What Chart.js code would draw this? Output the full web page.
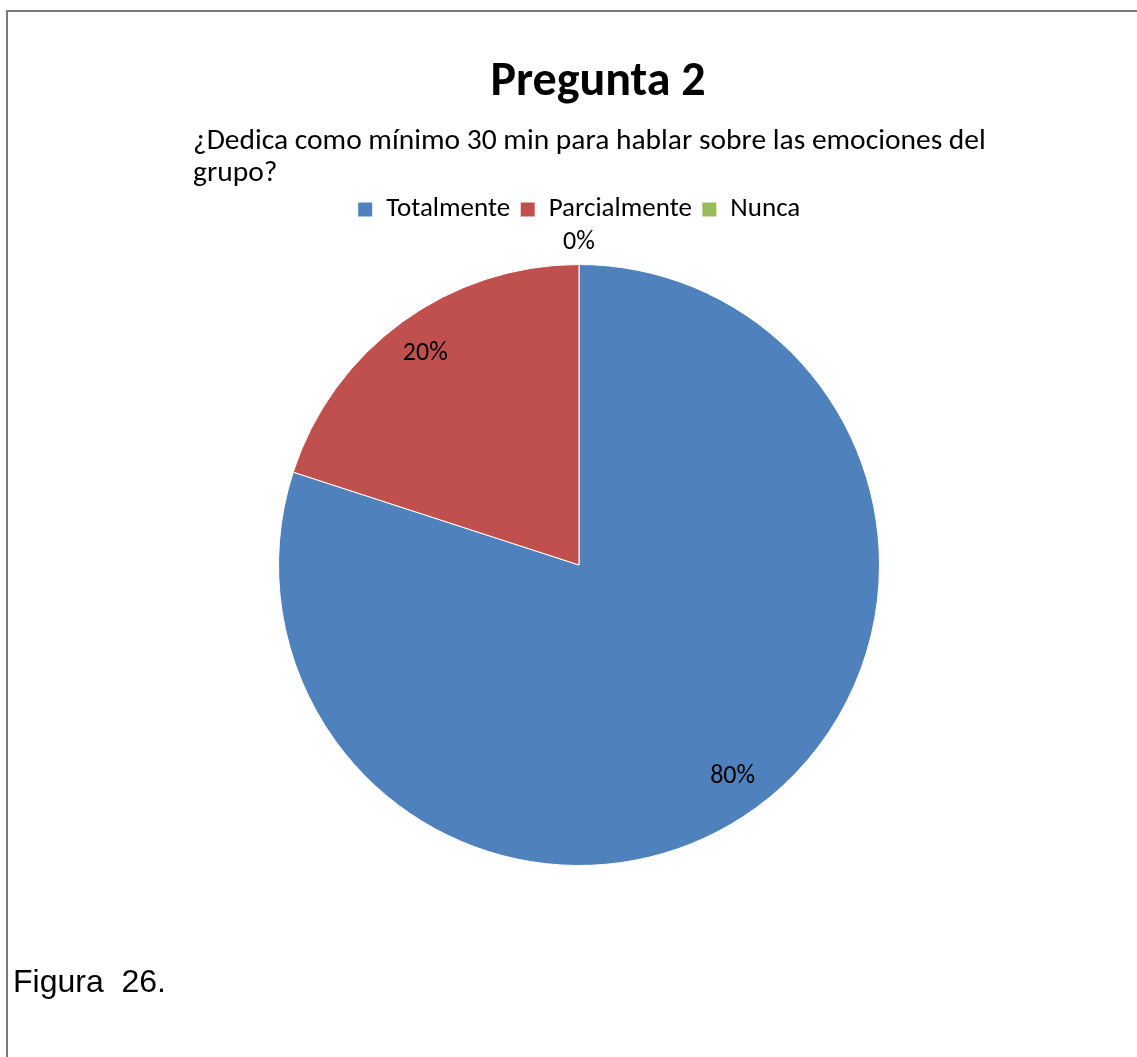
<!DOCTYPE html>
<html>
<head>
<meta charset="utf-8">
<script src="https://cdn.jsdelivr.net/npm/chart.js@4.4.1/dist/chart.umd.min.js"></script>
<style>
  html, body { margin: 0; padding: 0; background: #fff; overflow: hidden; }
  #frame {
    position: absolute; left: 6px; top: 10px; width: 1200px; height: 1100px;
    border-top: 2px solid #7a7a7a; border-left: 2px solid #7a7a7a;
  }
  #wrap { position: absolute; left: 0; top: 0; width: 1137px; height: 1057px; }
</style>
</head>
<body>
<div id="frame"></div>
<div id="wrap"><canvas id="myChart"></canvas></div>
<script>
'use strict';

let categories = ['Totalmente', 'Parcialmente', 'Nunca'];
let values = [80, 20, 0];
let colors = ['#4F81BD', '#C0504D', '#9BBB59'];
let titleText = 'Pregunta 2';
let subtitleLines = ['¿Dedica como mínimo 30 min para hablar sobre las emociones del', 'grupo?'];
let captionText = 'Figura  26.';

let fontName = 'Carlito, Calibri, Lato, sans-serif';

// title, question and caption drawn on the canvas
let textPlugin = {
  id: 'textPlugin',
  afterDraw(chart) {
    let ctx = chart.ctx;
    ctx.save();
    ctx.fillStyle = '#000';
    ctx.textBaseline = 'alphabetic';

    ctx.textAlign = 'center';
    ctx.font = 'bold 48px ' + fontName;
    ctx.fillText(titleText, 598, 95);

    ctx.textAlign = 'left';
    ctx.font = '29.5px ' + fontName;
    ctx.fillText(subtitleLines[0], 193, 149);
    ctx.fillText(subtitleLines[1], 193, 181);

    ctx.font = '32px "Liberation Sans", Arial, sans-serif';
    ctx.fillText(captionText, 13, 992);
    ctx.restore();
  }
};

// percentage labels on the slices
let labelPlugin = {
  id: 'labelPlugin',
  afterDatasetsDraw(chart) {
    let ctx = chart.ctx;
    let meta = chart.getDatasetMeta(0);
    let total = values.reduce((a, b) => a + b, 0);
    ctx.save();
    ctx.fillStyle = '#000';
    ctx.font = '26px ' + fontName;
    ctx.textAlign = 'center';
    ctx.textBaseline = 'middle';
    meta.data.forEach((arc, i) => {
      let p = arc.getProps(['x', 'y', 'startAngle', 'endAngle', 'outerRadius'], true);
      let mid = (p.startAngle + p.endAngle) / 2;
      let dist = values[i] === 0 ? p.outerRadius + 22 : p.outerRadius * 0.87;
      let pct = Math.round(values[i] / total * 100) + '%';
      ctx.fillText(pct, p.x + Math.cos(mid) * dist, p.y + Math.sin(mid) * dist);
    });
    ctx.restore();
  }
};

let ctx = document.getElementById('myChart');
new Chart(ctx, {
  type: 'pie',
  data: {
    labels: categories,
    datasets: [{
      data: values,
      backgroundColor: colors,
      borderColor: '#ffffff',
      borderWidth: 1
    }]
  },
  options: {
    responsive: true,
    maintainAspectRatio: false,
    animation: false,
    layout: {
      padding: { top: 186, left: 278, right: 257, bottom: 160 }
    },
    plugins: {
      legend: {
        position: 'top',
        labels: {
          boxWidth: 15,
          boxHeight: 15,
          padding: 10,
          color: '#000',
          font: { family: fontName, size: 27 }
        }
      },
      tooltip: { enabled: false }
    }
  },
  plugins: [textPlugin, labelPlugin]
});
</script>
</body>
</html>
